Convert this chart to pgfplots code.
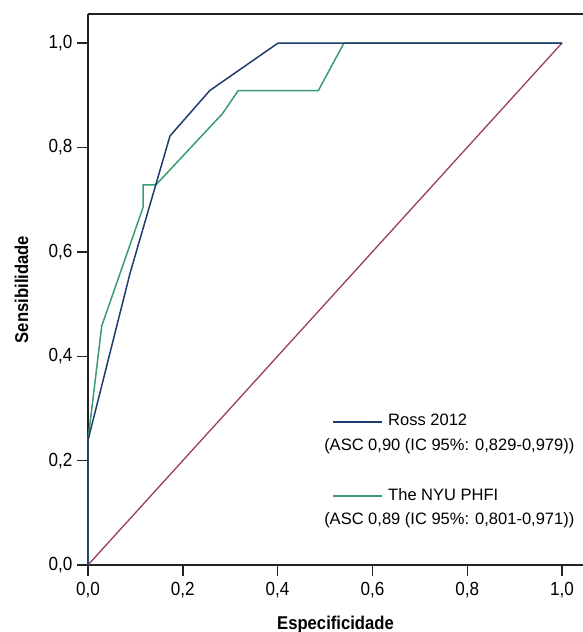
\documentclass[border=0pt]{standalone}
\usepackage{fontspec}
\setmainfont{Liberation Sans}
\newfontfamily\narrowfont[FakeStretch=0.9]{Liberation Sans}
\usepackage{pgfplots}
\pgfplotsset{compat=1.18}
\definecolor{rossblue}{HTML}{1F3C6E}
\definecolor{nyugreen}{HTML}{3A9C74}
\definecolor{diagpurple}{HTML}{9B3A6E}
\definecolor{axisgray}{HTML}{222222}
\begin{document}
\begin{tikzpicture}
\useasboundingbox (-88pt,-67pt) rectangle (495pt,565pt);
\begin{axis}[
  at={(0pt,0pt)}, anchor=south west,
  scale only axis,
  width=495pt, height=551pt,
  xmin=0, xmax=1.0443, ymin=0, ymax=1.0556,
  axis x line=box, axis y line=left,
  axis line style={-, line width=1.6pt, color=axisgray},
  xtick={0,0.2,0.4,0.6,0.8,1.0},
  ytick={0,0.2,0.4,0.6,0.8,1.0},
  xtick pos=bottom, ytick pos=left,
  tick align=outside,
  major tick length=11pt,
  tick style={line width=1.4pt, color=axisgray},
  /pgf/number format/assume math mode=true,
  /pgf/number format/.cd, use comma, fixed, fixed zerofill, precision=1, /pgfplots/.cd,
  ticklabel style={font=\fontsize{19}{22}\selectfont\narrowfont},
  xticklabel style={yshift=-3pt},
  yticklabel style={xshift=-1pt},
  xlabel={Especificidade},
  ylabel={Sensibilidade},
  xlabel style={at={(axis description cs:0.5,-0.1162)}, anchor=base, font=\fontsize{18.5}{22}\selectfont\narrowfont\bfseries},
  ylabel style={at={(axis description cs:-0.1212,0.5)}, anchor=base, font=\fontsize{18.5}{22}\selectfont\narrowfont\bfseries},
  clip=false,
]
% diagonal reference
\addplot[diagpurple, line width=1.3pt] coordinates {(0,0) (1,1)};
% The NYU PHFI
\addplot[nyugreen, line width=1.5pt] coordinates {
 (0,0) (0,0.239) (0.029,0.458) (0.1165,0.686) (0.1165,0.728) (0.143,0.728)
 (0.284,0.865) (0.317,0.909) (0.486,0.909) (0.540,1.0) (1,1.0)};
% Ross 2012
\addplot[rossblue, line width=1.5pt] coordinates {
 (0,0) (0,0.239) (0.089,0.56) (0.173,0.822) (0.257,0.909) (0.401,1.0) (1,1.0)};
% legend
\draw[rossblue, line width=1.5pt] (axis cs:0.517,0.274) -- (axis cs:0.620,0.274);
\node[anchor=base west, inner sep=0pt, font=\fontsize{16.5}{20}\selectfont] at (axis cs:0.633,0.268) {Ross 2012};
\node[anchor=base west, inner sep=0pt, font=\fontsize{16.5}{20}\selectfont] at (axis cs:0.498,0.220) {(ASC 0,90 (IC 95\%: 0,829-0,979))};
\draw[nyugreen, line width=1.5pt] (axis cs:0.517,0.132) -- (axis cs:0.620,0.132);
\node[anchor=base west, inner sep=0pt, font=\fontsize{16.5}{20}\selectfont] at (axis cs:0.633,0.1245) {The NYU PHFI};
\node[anchor=base west, inner sep=0pt, font=\fontsize{16.5}{20}\selectfont] at (axis cs:0.498,0.078) {(ASC 0,89 (IC 95\%: 0,801-0,971))};
\end{axis}
\end{tikzpicture}
\end{document}
